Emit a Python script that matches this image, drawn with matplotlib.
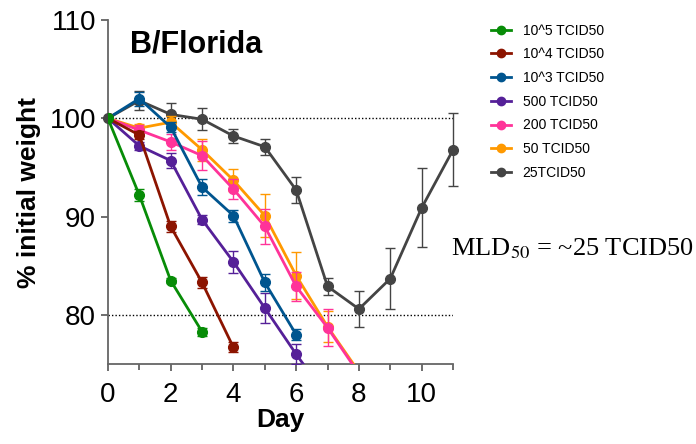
import matplotlib
matplotlib.use("Agg")
import matplotlib.pyplot as plt
from matplotlib.lines import Line2D

plt.rcParams['font.family'] = ['Liberation Sans', 'DejaVu Sans']

labels = ["10^5 TCID50", "10^4 TCID50", "10^3 TCID50", "500 TCID50",
          "200 TCID50", "50 TCID50", "25TCID50"]
colors = ["#078C07", "#8C1400", "#00558F", "#552098", "#FF3399", "#FF9900", "#444444"]

days = [
    [0, 1, 2, 3],
    [0, 1, 2, 3, 4],
    [0, 1, 2, 3, 4, 5, 6],
    [0, 1, 2, 3, 4, 5, 6, 7],
    [0, 1, 2, 3, 4, 5, 6, 7, 8],
    [0, 1, 2, 3, 4, 5, 6, 7, 8],
    [0, 1, 2, 3, 4, 5, 6, 7, 8, 9, 10, 11],
]
weights = [
    [100, 92.2, 83.5, 78.3],
    [100, 98.3, 89.0, 83.3, 76.7],
    [100, 102.0, 99.1, 93.0, 90.1, 83.3, 78.0],
    [100, 97.2, 95.7, 89.7, 85.4, 80.7, 76.0, 71.6],
    [100, 98.8, 97.6, 96.2, 92.8, 89.0, 82.9, 78.7, 74.0],
    [100, 99.0, 99.6, 96.8, 93.7, 90.1, 84.0, 78.8, 74.2],
    [100, 101.8, 100.4, 99.9, 98.2, 97.1, 92.7, 82.9, 80.6, 83.7, 90.9, 96.8],
]
errors = [
    [0, 0.6, 0.3, 0.4],
    [0, 0.4, 0.6, 0.6, 0.5],
    [0, 0.7, 0.5, 0.8, 0.6, 0.9, 0.6],
    [0, 0.4, 0.8, 0.5, 1.1, 1.5, 1.0, 0],
    [0, 0.5, 0.8, 1.5, 1.0, 1.8, 1.5, 1.9, 0],
    [0, 0.4, 0.6, 1.1, 1.1, 2.2, 2.4, 1.6, 0],
    [0, 1.0, 1.2, 1.1, 0.7, 0.8, 1.3, 0.9, 1.8, 3.1, 4.0, 3.7],
]

fig = plt.figure(figsize=(6.96, 4.44), dpi=100)
ax = fig.add_axes([0.155, 0.180, 0.496, 0.775])

ax.plot([0, 11], [100, 100], color="black", ls=(0, (1, 1.5)), lw=1, zorder=1)
ax.plot([0, 11], [80, 80], color="black", ls=(0, (1, 1.5)), lw=1, zorder=1)

for i in reversed(range(len(labels))):
    # the 25 TCID50 group never drops below the axis, so let its last point show past the edge
    clip = i != len(labels) - 1
    ax.errorbar(days[i], weights[i], yerr=errors[i], color=colors[i],
                marker="o", markersize=7, lw=2, elinewidth=1, capsize=3.5,
                capthick=1, label=labels[i], zorder=3 + (len(labels) - i),
                clip_on=clip)

ax.set_xlim(0, 11)
ax.set_ylim(75, 110)
ax.set_xticks([0, 2, 4, 6, 8, 10])
ax.set_xticks([1, 3, 5, 7, 9, 11], minor=True)
ax.set_yticks([80, 90, 100, 110])
ax.tick_params(labelsize=20, color="#555555", width=1.2, length=5)
ax.tick_params(axis="x", pad=8)
ax.tick_params(which="minor", color="#555555", width=1.2, length=4)
for s in ["top", "right"]:
    ax.spines[s].set_visible(False)
for s in ["left", "bottom"]:
    ax.spines[s].set_color("#666666")
    ax.spines[s].set_linewidth(1.3)

ax.set_xlabel("Day", fontsize=19, fontweight="bold", labelpad=0)
ax.set_ylabel("% initial weight", fontsize=19, fontweight="bold", labelpad=6)
ax.text(0.065, 0.93, "B/Florida", transform=ax.transAxes, fontsize=22,
        fontweight="bold", va="center", ha="left")

leg_handles = [Line2D([], [], color=c, marker="o", markersize=6, lw=2) for c in colors]
fig.legend(leg_handles, labels, loc="upper left", bbox_to_anchor=(0.687, 0.975),
           frameon=False, fontsize=10, handlelength=1.5, labelspacing=0.7,
           handletextpad=0.8)

fig.text(0.648, 0.425, "MLD$_{50}$ = ~25 TCID50", fontsize=19,
         family="Liberation Serif", va="baseline", ha="left",
         math_fontfamily="stix")

fig.savefig("out.png", dpi=100)
